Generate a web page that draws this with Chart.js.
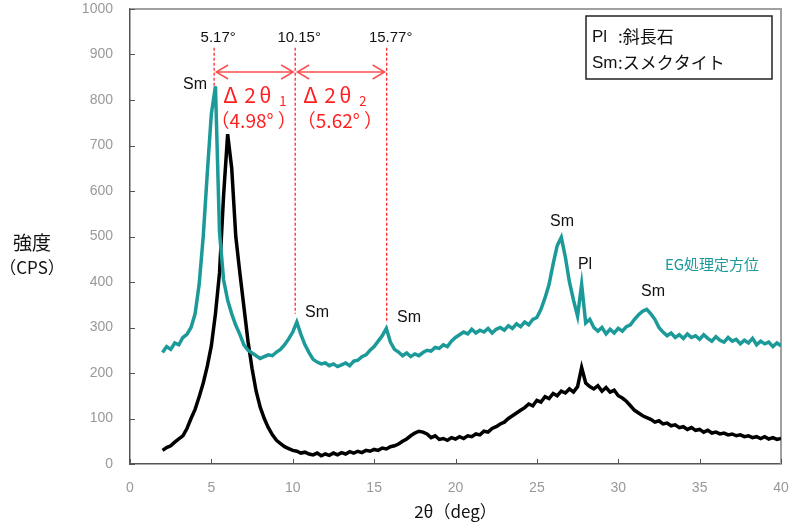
<!DOCTYPE html>
<html>
<head>
<meta charset="utf-8">
<script src="https://cdn.jsdelivr.net/npm/chart.js@4.4.0/dist/chart.umd.min.js"></script>
<style>
  body { margin: 0; background: #fff; }
</style>
</head>
<body>
<canvas id="xrd" width="795" height="525"></canvas>
<script>
  // 2theta grid: 2.00 .. 40.00 deg, 0.25 deg step
  const startDeg = 2;
  const stepDeg = 0.25;

  // EG treated, oriented (teal)
  const egCps = [
    245, 258, 252, 266,
    262, 278, 285, 300,
    330, 395, 500, 640,
    770, 830, 510, 405,
    360, 330, 305, 285,
    262, 250, 244, 238,
    232, 236, 240, 238,
    246, 252, 262, 275,
    290, 312, 285, 262,
    245, 230, 224, 220,
    222, 216, 220, 214,
    218, 222, 216, 226,
    228, 236, 240, 250,
    258, 270, 282, 298,
    268, 252, 246, 238,
    244, 236, 242, 238,
    245, 250, 248, 256,
    254, 262, 258, 270,
    278, 284, 290, 286,
    296, 288, 294, 290,
    298, 288, 296, 300,
    294, 304, 298, 308,
    302, 312, 306, 318,
    322, 340, 365, 395,
    440, 480, 498, 455,
    400, 360, 325, 395,
    310, 318, 300, 292,
    300, 286, 296, 288,
    298, 292, 302, 306,
    318, 328, 336, 340,
    330, 318, 300, 290,
    282, 288, 278, 284,
    276, 286, 278, 282,
    274, 284, 276, 270,
    280, 272, 268, 278,
    270, 274, 264, 272,
    266, 276, 262, 270,
    264, 268, 258, 266,
    260
  ];

  // untreated (black)
  const rawCps = [
    30, 36, 40, 48,
    55, 62, 78, 100,
    120, 148, 178, 215,
    260, 330, 420, 590,
    725, 650, 500, 420,
    345, 270, 210, 160,
    125, 100, 80, 64,
    52, 45, 38, 34,
    30, 28, 24, 26,
    22, 20, 24, 18,
    22, 19, 24, 20,
    25, 22, 27, 24,
    28, 25, 30, 28,
    32, 30, 35, 33,
    38, 40, 44, 50,
    55, 62, 68, 72,
    70, 66, 58, 62,
    54, 56, 52, 58,
    55, 60, 56, 62,
    60, 66, 64, 72,
    70, 78, 82, 88,
    92, 100, 106, 112,
    118, 124, 132, 128,
    140, 136, 148, 144,
    155, 150, 160, 156,
    165, 158, 170, 212,
    178, 170, 165, 172,
    160, 168, 158, 162,
    150, 145, 138, 128,
    118, 112, 106, 102,
    98, 92, 95, 88,
    90, 84, 86, 80,
    82, 76, 80, 74,
    76, 70, 74, 68,
    70, 66, 68, 64,
    66, 62, 64, 60,
    62, 58, 60, 56,
    60, 55, 58, 54,
    56
  ];

  const xTicks = [0, 5, 10, 15, 20, 25, 30, 35, 40];
  const yTicks = [0, 100, 200, 300, 400, 500, 600, 700, 800, 900, 1000];

  // peak positions marked with red guides
  const peakDeg = [5.17, 10.15, 15.77];
  const peakText = ['5.17°', '10.15°', '15.77°'];
  const deltaText = ['（4.98° ）', '（5.62° ）'];

  const teal = '#1b9a99';
  const red = '#ff1f1f';
  const jp = '"Noto Sans CJK JP", "Liberation Sans", sans-serif';
  const sans = '"Liberation Sans", Arial, sans-serif';

  const toPoints = arr => arr.map((v, i) => ({ x: startDeg + i * stepDeg, y: v }));

  function text(ctx, s, x, y, font, color, align) {
    ctx.font = font;
    ctx.fillStyle = color;
    ctx.textAlign = align || 'left';
    ctx.textBaseline = 'middle';
    ctx.fillText(s, x, y);
  }

  const frame = {
    id: 'frame',
    beforeDatasetsDraw(chart) {
      const { ctx, chartArea: a, scales: { x, y } } = chart;
      ctx.save();
      // gray top/right border
      ctx.strokeStyle = '#a0a0a0';
      ctx.lineWidth = 2;
      ctx.beginPath();
      ctx.moveTo(a.left, a.top);
      ctx.lineTo(a.right, a.top);
      ctx.lineTo(a.right, a.bottom);
      ctx.stroke();
      // inward ticks
      ctx.strokeStyle = '#555';
      ctx.lineWidth = 1;
      yTicks.forEach(v => {
        const py = Math.round(y.getPixelForValue(v)) + 0.5;
        ctx.beginPath(); ctx.moveTo(a.left, py); ctx.lineTo(a.left + 5, py); ctx.stroke();
      });
      xTicks.forEach(v => {
        const px = Math.round(x.getPixelForValue(v)) + 0.5;
        ctx.beginPath(); ctx.moveTo(px, a.bottom); ctx.lineTo(px, a.bottom - 5); ctx.stroke();
      });
      ctx.restore();
    },
    afterDatasetsDraw(chart) {
      const { ctx, chartArea: a, scales: { x, y } } = chart;
      ctx.save();
      const gx = peakDeg.map(d => x.getPixelForValue(d));

      // red dashed guides
      const ends = [830, 330, 312];
      ctx.strokeStyle = '#ff2a2a';
      ctx.lineWidth = 1.3;
      ctx.setLineDash([3, 2]);
      gx.forEach((px, i) => {
        ctx.beginPath();
        ctx.moveTo(px, y.getPixelForValue(915));
        ctx.lineTo(px, y.getPixelForValue(ends[i]));
        ctx.stroke();
      });
      ctx.setLineDash([]);

      // guide labels
      peakText.forEach((s, i) => text(ctx, s, gx[i] + 4, 38, '15px ' + sans, '#111', 'center'));

      // double arrows
      ctx.strokeStyle = '#ff5050';
      ctx.lineWidth = 1.5;
      const ay = 72;
      for (let i = 0; i < 2; i++) {
        const l = gx[i] + 2, r = gx[i + 1] - 2;
        ctx.beginPath();
        ctx.moveTo(l, ay); ctx.lineTo(r, ay);
        ctx.moveTo(l + 12, ay - 7); ctx.lineTo(l, ay); ctx.lineTo(l + 12, ay + 7);
        ctx.moveTo(r - 12, ay - 7); ctx.lineTo(r, ay); ctx.lineTo(r - 12, ay + 7);
        ctx.stroke();
      }

      // delta 2theta labels
      for (let i = 0; i < 2; i++) {
        const sx = gx[i] + 9 - i * 1;
        text(ctx, 'Δ', sx, 95, '22px ' + jp, red);
        text(ctx, '2', sx + 21, 95, '21px ' + jp, red);
        text(ctx, 'θ', sx + 36, 95, '21px ' + jp, red);
        text(ctx, String(i + 1), sx + 56, 101, '13px ' + jp, red);
        text(ctx, deltaText[i], (gx[i] + gx[i + 1]) / 2 - 1, 121, '19px ' + jp, red, 'center');
      }

      // phase labels
      const f = '16px ' + sans;
      text(ctx, 'Sm', 195, 85, f, '#111', 'center');
      text(ctx, 'Sm', 317, 313, f, '#111', 'center');
      text(ctx, 'Sm', 409, 318, f, '#111', 'center');
      text(ctx, 'Sm', 562, 222, f, '#111', 'center');
      text(ctx, 'Pl', 585, 265, f, '#111', 'center');
      text(ctx, 'Sm', 653, 292, f, '#111', 'center');
      text(ctx, 'EG処理定方位', 712, 264, '15px ' + jp, teal, 'center');

      // key box
      ctx.strokeStyle = '#222';
      ctx.lineWidth = 1.5;
      ctx.fillStyle = '#fff';
      ctx.fillRect(586, 16, 186, 63);
      ctx.strokeRect(586, 16, 186, 63);
      text(ctx, 'Pl', 592, 37, '17px ' + sans, '#111');
      text(ctx, ':斜長石', 618, 37, '17px ' + jp, '#111');
      text(ctx, 'Sm', 592, 63, '17px ' + sans, '#111');
      text(ctx, ':スメクタイト', 618, 63, '17px ' + jp, '#111');

      // axis titles
      text(ctx, '強度', 32, 243, '19px ' + jp, '#111', 'center');
      text(ctx, '（CPS）', 32, 268, '17px ' + jp, '#111', 'center');
      text(ctx, '2θ（deg）', (a.left + a.right) / 2, 512, '17px ' + jp, '#111', 'center');
      ctx.restore();
    }
  };

  new Chart(document.getElementById('xrd'), {
    type: 'line',
    data: {
      datasets: [
        {
          label: 'EG処理定方位',
          data: toPoints(egCps),
          borderColor: teal,
          borderWidth: 3.5,
          pointRadius: 0,
          tension: 0
        },
        {
          label: '未処理',
          data: toPoints(rawCps),
          borderColor: '#000',
          borderWidth: 3.5,
          pointRadius: 0,
          tension: 0
        }
      ]
    },
    options: {
      responsive: false,
      animation: false,
      layout: { padding: { top: 9, right: 14, left: 0, bottom: 0 } },
      plugins: {
        legend: { display: false },
        tooltip: { enabled: false }
      },
      scales: {
        x: {
          type: 'linear',
          min: 0,
          max: 40,
          afterFit(scale) {
            scale.height = 61;
            scale.paddingLeft = 0;
            scale.paddingRight = 0;
          },
          afterBuildTicks(scale) { scale.ticks = xTicks.map(v => ({ value: v })); },
          grid: { display: false, drawTicks: false },
          border: { display: true, color: '#555', width: 1.5 },
          ticks: { padding: 16, color: '#999', font: { family: sans, size: 14 } }
        },
        y: {
          min: 0,
          max: 1000,
          afterFit(scale) {
            scale.width = 130;
            scale.paddingTop = 0;
            scale.paddingBottom = 0;
          },
          afterBuildTicks(scale) { scale.ticks = yTicks.map(v => ({ value: v })); },
          grid: { display: false, drawTicks: false },
          border: { display: true, color: '#555', width: 1.5 },
          ticks: {
            padding: 17,
            color: '#999',
            font: { family: sans, size: 14 },
            callback: v => String(v)
          }
        }
      }
    },
    plugins: [frame]
  });
</script>
</body>
</html>
